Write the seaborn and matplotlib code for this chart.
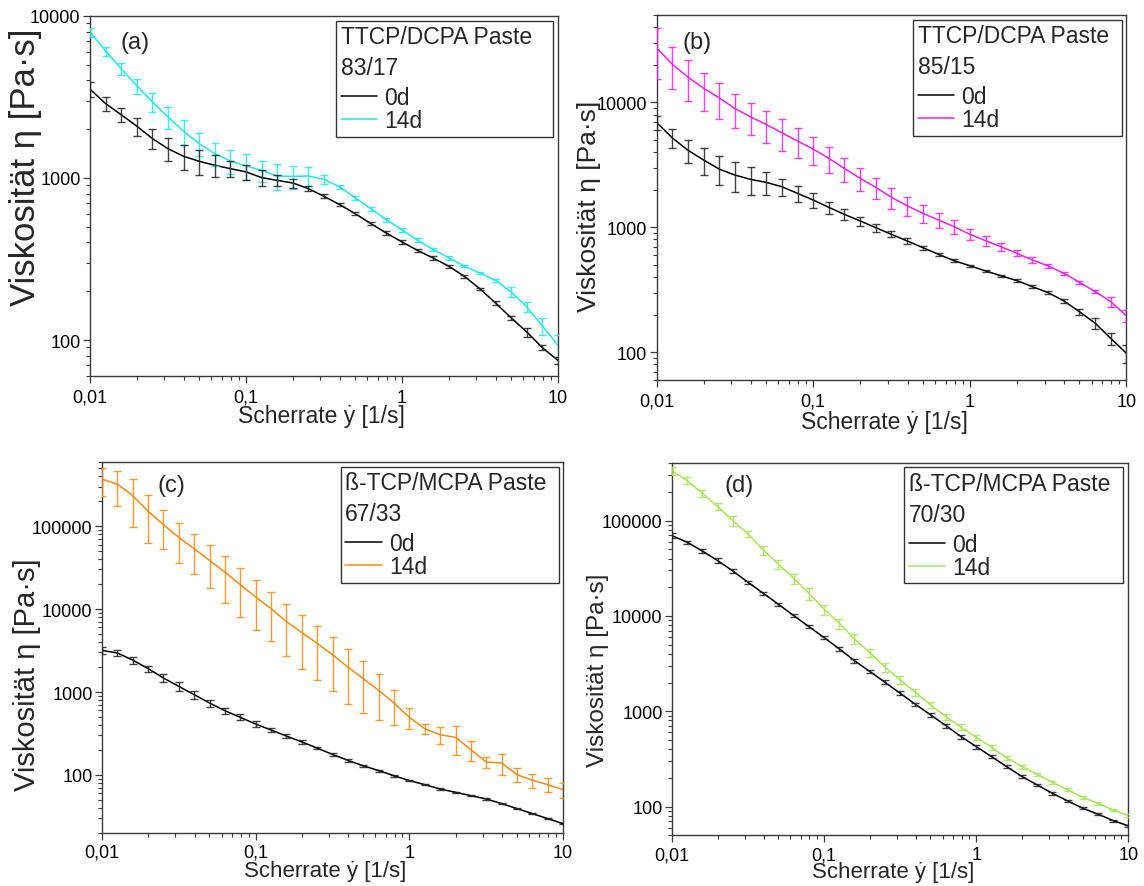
import matplotlib
matplotlib.use("Agg")
import numpy as np
import pandas as pd
import matplotlib.pyplot as plt
import seaborn as sns
from matplotlib.ticker import FuncFormatter, LogLocator, NullFormatter, FixedLocator
from matplotlib.lines import Line2D

# ---------------- data ----------------
shear_rate = [0.01, 0.0126, 0.0158, 0.02, 0.0251, 0.0316, 0.0398, 0.0501, 0.0631, 0.0794,
              0.1, 0.126, 0.158, 0.2, 0.251, 0.316, 0.398, 0.501, 0.631, 0.794,
              1.0, 1.26, 1.58, 2.0, 2.51, 3.16, 3.98, 5.01, 6.31, 7.94, 10.0]

a_0d = [3530, 2875, 2460, 2085, 1750, 1517, 1360, 1268, 1197, 1142, 1090, 1005, 967, 931, 859, 771,
        685, 602, 523, 457, 403, 357, 321, 285, 247, 207, 169, 137, 112, 89.7, 74.8]
a_0d_err = [390, 300, 260, 265, 250, 250, 245, 230, 190, 130, 115, 110, 75, 58, 30, 23, 17, 15, 13, 12,
            12, 9, 8, 6, 4, 3, 5, 4, 7, 3, 4]
a_14d = [7960, 6085, 4733, 3700, 2946, 2381, 1942, 1629, 1413, 1273, 1186, 1114, 1028, 1023, 1028, 982,
         880, 756, 647, 553, 479, 412, 363, 321, 286, 259, 233, 198, 160, 122, 92.7]
a_14d_err = [510, 390, 415, 395, 385, 367, 345, 262, 234, 211, 219, 166, 190, 165, 134, 63, 25, 21, 18, 16,
             14, 12, 9, 8, 5, 4, 6, 13, 11, 15, 14]

b_0d = [6920, 5210, 4157, 3457, 2930, 2624, 2422, 2291, 2115, 1871, 1655, 1445, 1271, 1124, 994, 879,
        778, 688, 608, 541, 493, 448, 410, 374, 335, 300, 258, 211, 171, 129, 98]
b_0d_err = [850, 896, 893, 838, 765, 700, 595, 471, 338, 270, 218, 155, 121, 93, 70, 49, 43, 27, 19, 13,
            9, 8, 7.5, 9, 10, 9, 8, 13, 18, 14, 16]
b_14d = [27350, 20260, 16040, 12950, 10890, 8953, 7670, 6668, 5716, 4909, 4236, 3565, 2965, 2466, 2089,
         1738, 1490, 1294, 1145, 1012, 879, 782, 700, 619, 548, 491, 429, 363, 306, 254, 196]
b_14d_err = [11850, 7550, 5750, 4345, 3550, 2675, 2200, 1915, 1600, 1300, 1070, 846, 657, 522, 417, 325,
             256, 207, 158, 130, 94, 72, 49, 34, 30, 18, 13, 9, 9, 22, 20]

c_0d = [3177, 2951, 2431, 1911, 1475, 1170, 929, 737, 595, 495, 411, 348, 295, 250, 211, 177, 150, 129,
        113, 98, 85.5, 76.5, 67.8, 61.8, 56.3, 51.4, 45.2, 39.3, 34.2, 29.8, 25.9]
c_0d_err = [294, 218, 225, 177, 164, 141, 95, 68, 55, 41, 34, 19, 14, 12, 8, 7, 5.5, 3.6, 3, 2.7,
            1.6, 1.4, 1.2, 1.1, 1.0, 0.9, 0.8, 0.7, 0.6, 0.6, 0.5]
c_14d = [368000, 320600, 233900, 150200, 103800, 73000, 53300, 38550, 27900, 19630, 13950, 10090, 7100,
         5190, 3855, 2818, 2000, 1448, 1047, 737, 495, 361, 306, 284, 202, 143.5, 139.6, 101, 86.3, 76.5, 66.6]
c_14d_err = [135000, 147000, 137000, 88000, 51300, 37000, 27100, 20600, 16100, 11550, 8360, 6000, 4400,
             3300, 2450, 1790, 1290, 896, 590, 332, 141, 53, 68, 110, 56, 21, 41, 19, 17, 15, 13.5]

d_0d = [69600, 59300, 48100, 38000, 29650, 22550, 17290, 13250, 10080, 7727, 5928, 4508, 3400, 2606, 2014,
        1545, 1184, 915, 708, 542, 426, 334, 263, 206.5, 168.8, 138, 114.6, 96.1, 83.1, 71.3, 62.7]
d_0d_err = [4500, 2400, 2300, 2450, 1670, 900, 560, 430, 325, 310, 240, 180, 165, 105, 97, 75, 48, 44, 34,
            26, 21, 13, 11, 6.6, 5.4, 4.4, 3.7, 2.3, 2, 1.7, 1.5]
d_14d = [331900, 263000, 193700, 140300, 100000, 72450, 49230, 34820, 24830, 17290, 11750, 8375, 5741,
         4121, 2897, 2133, 1583, 1165, 879, 679, 533, 419, 326, 263, 218, 180, 150, 125, 108, 92, 80.5]
d_14d_err = [33400, 21200, 15600, 11300, 11300, 5250, 5550, 3900, 3000, 2500, 1420, 1010, 693, 430, 303,
             189, 127, 94, 64, 49, 30, 24, 16, 13, 8.8, 7.2, 6, 4, 3.5, 3, 2.6]

series_labels = ["0d", "14d"]
x_ticks = [0.01, 0.1, 1, 10]
x_label = "Scherrate \u1e8f [1/s]"
y_label = "Viskosität η [Pa·s]"

# ---------------- style ----------------
sns.set_theme(style="ticks")
plt.rcParams['font.family'] = ['Liberation Sans', 'DejaVu Sans']
plt.rcParams.update({
    'xtick.direction': 'out', 'ytick.direction': 'out',
    'xtick.major.size': 4.8, 'ytick.major.size': 4.8,
    'xtick.minor.size': 2.6, 'ytick.minor.size': 2.6,
    'xtick.major.width': 0.9, 'ytick.major.width': 0.9,
    'xtick.minor.width': 0.8, 'ytick.minor.width': 0.8,
    'axes.edgecolor': '#3a3a3a', 'axes.linewidth': 1.0,
    'xtick.color': '#3a3a3a', 'ytick.color': '#3a3a3a',
    'xtick.labelcolor': 'black', 'ytick.labelcolor': 'black',
})

panels = [
    dict(tag="(a)", title="TTCP/DCPA Paste\n83/17", d0=a_0d, e0=a_0d_err, d14=a_14d, e14=a_14d_err,
         color="#22E8E8", rect=[0.0787, 0.575, 0.4091, 0.4059], ylim=(60, 10000), ylab_size=25,
         ylab_xy=(-0.103, 0.582), xlab_xy=(0.494, -0.078), xlab_size=16.5, xpad=4.5,
         tag_xy=(0.096, 0.929), leg_box=(0.5256, 0.987, 0.4637)),
    dict(tag="(b)", title="TTCP/DCPA Paste\n85/15", d0=b_0d, e0=b_0d_err, d14=b_14d, e14=b_14d_err,
         color="#EE22EE", rect=[0.5739, 0.5705, 0.4108, 0.4113], ylim=(60, 50000), ylab_size=19,
         ylab_xy=(-0.118, 0.478), xlab_xy=(0.484, -0.082), xlab_size=16.5, xpad=4.5,
         tag_xy=(0.086, 0.9265), leg_box=(0.5457, 0.988, 0.4447)),
    dict(tag="(c)", title="ß-TCP/MCPA Paste\n67/33", d0=c_0d, e0=c_0d_err, d14=c_14d, e14=c_14d_err,
         color="#FF8A10", rect=[0.0892, 0.0598, 0.403, 0.4187], ylim=(20, 600000), ylab_size=21,
         ylab_xy=(-0.133, 0.429), xlab_xy=(0.485, -0.072), xlab_size=16, xpad=3.0,
         tag_xy=(0.150, 0.936), leg_box=(0.5178, 0.986, 0.474)),
    dict(tag="(d)", title="ß-TCP/MCPA Paste\n70/30", d0=d_0d, e0=d_0d_err, d14=d_14d, e14=d_14d_err,
         color="#A6E65A", rect=[0.5874, 0.0572, 0.399, 0.4194], ylim=(50, 400000), ylab_size=17.5,
         ylab_xy=(-0.139, 0.446), xlab_xy=(0.485, -0.070), xlab_size=16, xpad=3.0,
         tag_xy=(0.146, 0.941), leg_box=(0.5082, 0.989, 0.4797)),
]

fig = plt.figure(figsize=(11.44, 8.87), dpi=100)

for p in panels:
    ax = fig.add_axes(p["rect"])
    ax.set_xscale("log")
    ax.set_yscale("log")
    n = len(shear_rate)
    df = pd.DataFrame({
        "x": shear_rate + shear_rate,
        "eta": p["d0"] + p["d14"],
        "age": [series_labels[0]] * n + [series_labels[1]] * n,
    })
    palette = {series_labels[0]: "black", series_labels[1]: p["color"]}
    sns.lineplot(data=df, x="x", y="eta", hue="age", palette=palette, ax=ax,
                 legend=False, linewidth=1.1, estimator=None, errorbar=None)
    ax.errorbar(shear_rate, p["d14"], yerr=p["e14"], fmt="none", ecolor=p["color"],
                elinewidth=1.0, capsize=2.8, capthick=1.0, alpha=0.85, zorder=3)
    ax.errorbar(shear_rate, p["d0"], yerr=p["e0"], fmt="none", ecolor="#222222",
                elinewidth=1.0, capsize=2.8, capthick=1.0, alpha=0.85, zorder=3)

    ax.set_xlim(0.01, 10)
    ax.set_ylim(*p["ylim"])
    ax.xaxis.set_major_locator(FixedLocator(x_ticks))
    ax.xaxis.set_major_formatter(FuncFormatter(lambda v, pos: ("%g" % v).replace(".", ",")))
    ax.xaxis.set_minor_locator(LogLocator(base=10, subs=np.arange(2, 10)))
    ax.xaxis.set_minor_formatter(NullFormatter())
    ax.yaxis.set_major_locator(LogLocator(base=10, numticks=20))
    ax.yaxis.set_major_formatter(FuncFormatter(lambda v, pos: "%d" % round(v)))
    ax.yaxis.set_minor_locator(LogLocator(base=10, subs=np.arange(2, 10), numticks=20))
    ax.yaxis.set_minor_formatter(NullFormatter())
    ax.tick_params(axis="x", which="major", labelsize=13, pad=p["xpad"])
    ax.tick_params(axis="y", which="major", labelsize=13, pad=2)
    for s in ax.spines.values():
        s.set_visible(True)

    ax.set_xlabel(x_label, fontsize=p["xlab_size"])
    ax.xaxis.set_label_coords(*p["xlab_xy"])
    ax.set_ylabel(y_label, fontsize=p["ylab_size"])
    ax.yaxis.set_label_coords(*p["ylab_xy"])

    ax.text(p["tag_xy"][0], p["tag_xy"][1], p["tag"], transform=ax.transAxes,
            fontsize=17, ha="center", va="center")

    handles = [Line2D([], [], color="black", lw=1.1), Line2D([], [], color=p["color"], lw=1.1)]
    x0, top, w = p["leg_box"]
    leg = ax.legend(handles, series_labels, title=p["title"], alignment="left",
                    loc="upper left", bbox_to_anchor=(x0, 0.0, w, top), mode="expand",
                    borderaxespad=0, fontsize=16.5, title_fontsize=16.5,
                    handlelength=1.6, handletextpad=0.3, borderpad=0.2,
                    labelspacing=0.0, frameon=True, fancybox=False,
                    framealpha=1, edgecolor="#333333")
    leg.get_frame().set_linewidth(1.0)
    leg.get_title().set_linespacing(1.44)
    leg._legend_box.sep = 5.0

fig.savefig("out.png", dpi=100, facecolor="white")
